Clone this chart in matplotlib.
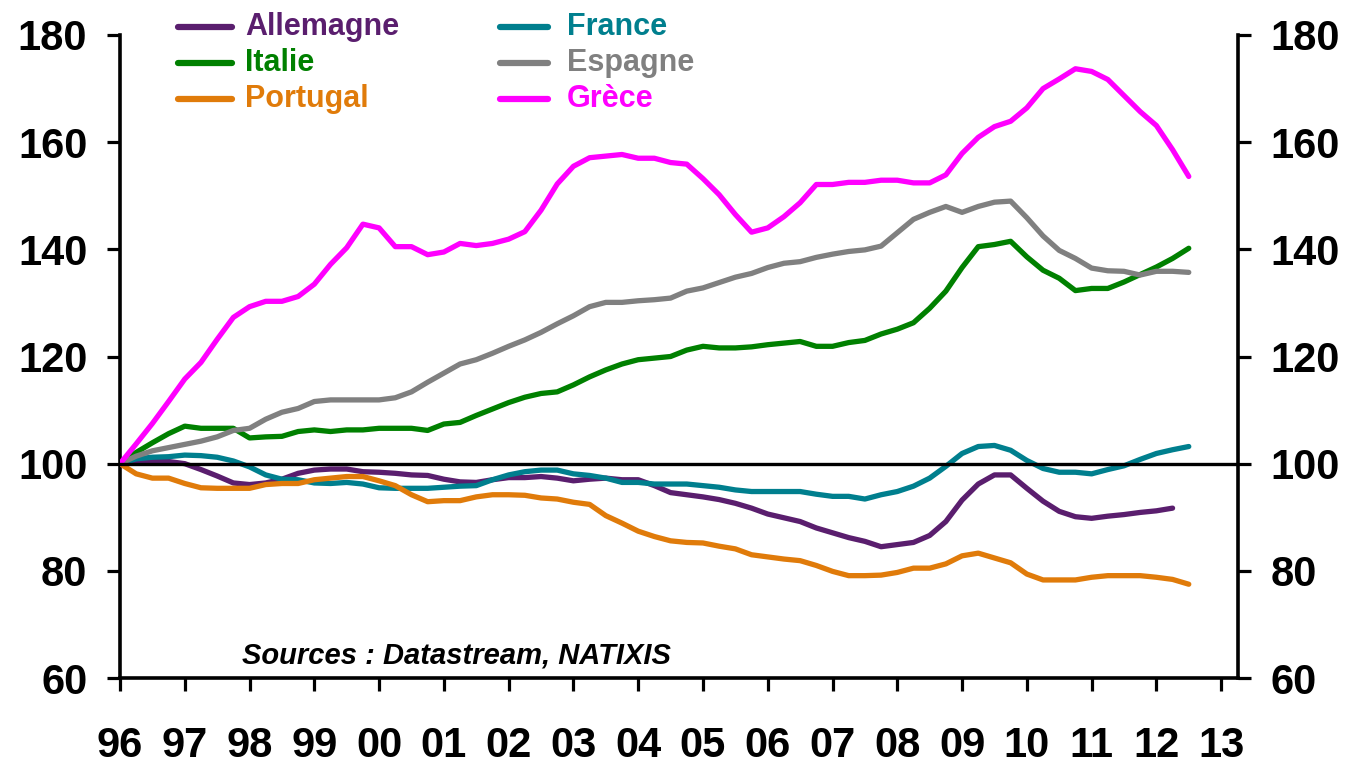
import numpy as np
import matplotlib
matplotlib.use("Agg")
import matplotlib.pyplot as plt
from matplotlib.lines import Line2D

plt.rcParams['font.family'] = ['Liberation Sans', 'DejaVu Sans']
plt.rcParams['font.weight'] = 'bold'

# ---------------- data (quarterly index, 1996 Q1 = 100) ----------------
start_year = 1996
allemagne = [100, 100.4, 100.6, 100.4, 100.0, 98.9, 97.7, 96.4, 96.1, 96.4,
             97.1, 98.2, 98.8, 99.0, 99.0, 98.5, 98.4, 98.2, 97.9, 97.8,
             97.1, 96.6, 96.5, 97.0, 97.4, 97.4, 97.6, 97.3, 96.8, 97.1,
             97.3, 97.0, 97.0, 95.9, 94.6, 94.2, 93.8, 93.3, 92.6, 91.7,
             90.6, 89.9, 89.2, 88.0, 87.1, 86.2, 85.5, 84.5, 84.9, 85.3,
             86.6, 89.2, 93.2, 96.2, 97.9, 97.9, 95.4, 93.0, 91.1, 90.1,
             89.8, 90.2, 90.5, 90.9, 91.2, 91.7]
france = [100, 100.9, 101.2, 101.3, 101.6, 101.5, 101.2, 100.5, 99.4, 97.9,
          97.1, 97.0, 96.4, 96.3, 96.5, 96.2, 95.5, 95.4, 95.4, 95.4,
          95.6, 95.8, 95.9, 97.0, 97.9, 98.5, 98.8, 98.8, 98.1, 97.8,
          97.3, 96.5, 96.5, 96.2, 96.2, 96.2, 95.9, 95.6, 95.1, 94.8,
          94.8, 94.8, 94.8, 94.3, 93.9, 93.9, 93.4, 94.2, 94.8, 95.8,
          97.3, 99.5, 101.9, 103.2, 103.4, 102.5, 100.6, 99.1, 98.4, 98.4,
          98.1, 98.9, 99.6, 100.8, 101.9, 102.6, 103.2]
italie = [100, 102.1, 103.9, 105.6, 107.0, 106.6, 106.6, 106.6, 104.8, 105.0,
          105.1, 106.0, 106.3, 106.0, 106.3, 106.3, 106.6, 106.6, 106.6, 106.2,
          107.4, 107.7, 109.0, 110.2, 111.4, 112.4, 113.1, 113.4, 114.7, 116.2,
          117.5, 118.6, 119.4, 119.7, 120.0, 121.2, 121.9, 121.6, 121.6, 121.8,
          122.2, 122.5, 122.8, 121.9, 121.9, 122.6, 123.0, 124.2, 125.1, 126.3,
          129.0, 132.2, 136.6, 140.5, 140.9, 141.5, 138.6, 136.1, 134.6, 132.3,
          132.7, 132.7, 133.9, 135.3, 136.7, 138.3, 140.2]
espagne = [100, 101.4, 102.4, 103.0, 103.6, 104.2, 105.0, 106.2, 106.6, 108.3,
           109.6, 110.3, 111.6, 111.9, 111.9, 111.9, 111.9, 112.3, 113.4, 115.2,
           116.9, 118.6, 119.4, 120.6, 121.9, 123.1, 124.5, 126.1, 127.6, 129.3,
           130.1, 130.1, 130.4, 130.6, 130.9, 132.2, 132.8, 133.8, 134.8, 135.5,
           136.6, 137.4, 137.7, 138.5, 139.1, 139.6, 139.9, 140.6, 143.1, 145.6,
           146.9, 148.0, 146.9, 148.0, 148.8, 149.0, 145.9, 142.5, 139.8, 138.3,
           136.5, 136.0, 135.9, 135.2, 135.9, 135.9, 135.7]
portugal = [100, 98.1, 97.3, 97.3, 96.3, 95.5, 95.4, 95.4, 95.4, 96.1,
            96.3, 96.3, 97.0, 97.3, 97.6, 97.6, 96.8, 95.9, 94.2, 92.9,
            93.1, 93.1, 93.8, 94.2, 94.2, 94.1, 93.6, 93.4, 92.8, 92.4,
            90.3, 88.9, 87.4, 86.4, 85.6, 85.3, 85.2, 84.6, 84.1, 83.0,
            82.6, 82.2, 81.9, 81.0, 79.9, 79.1, 79.1, 79.2, 79.7, 80.5,
            80.5, 81.3, 82.8, 83.3, 82.4, 81.5, 79.4, 78.3, 78.3, 78.3,
            78.8, 79.1, 79.1, 79.1, 78.8, 78.4, 77.5]
grece = [100, 103.7, 107.5, 111.6, 115.8, 118.9, 123.2, 127.3, 129.3, 130.3,
         130.3, 131.2, 133.5, 137.2, 140.3, 144.7, 144.0, 140.5, 140.5, 139.0,
         139.5, 141.1, 140.7, 141.1, 141.9, 143.3, 147.3, 152.2, 155.5, 157.1,
         157.4, 157.7, 157.0, 157.0, 156.2, 155.9, 153.2, 150.2, 146.5, 143.2,
         144.0, 146.1, 148.7, 152.1, 152.1, 152.5, 152.5, 152.9, 152.9, 152.4,
         152.4, 153.9, 157.9, 160.9, 162.9, 163.9, 166.4, 170.0, 171.8, 173.7,
         173.2, 171.7, 168.7, 165.7, 163.1, 158.6, 153.6]

series_names = ['Allemagne', 'France', 'Italie', 'Espagne', 'Portugal', 'Grèce']
series_values = [allemagne, france, italie, espagne, portugal, grece]
series_colors = ['#5A1E6E', '#007F8E', '#008000', '#808080', '#E07B0A', '#FF00FF']

year_ticks = list(range(1996, 2014))
year_labels = ['96', '97', '98', '99', '00', '01', '02', '03', '04', '05',
               '06', '07', '08', '09', '10', '11', '12', '13']
y_ticks = [60, 80, 100, 120, 140, 160, 180]
source_text = 'Sources : Datastream, NATIXIS'

# ---------------- figure ----------------
W, H = 1350, 764
fig = plt.figure(figsize=(W / 100, H / 100), dpi=100)
ax = fig.add_axes([120 / W, 1 - 678 / H, (1238 - 120) / W, (678 - 35) / H])

for name, vals, col in zip(series_names, series_values, series_colors):
    x = start_year + np.arange(len(vals)) / 4.0
    ax.plot(x, vals, color=col, lw=3.8, solid_capstyle='round',
            solid_joinstyle='round', zorder=3)

ax.axhline(100, color='black', lw=2.4, zorder=4)

ax.set_xlim(1996, 2013.26)
ax.set_ylim(60, 180)
ax.set_xticks(year_ticks)
ax.set_xticklabels(year_labels)
ax.set_yticks(y_ticks)

ax.spines['top'].set_visible(False)
for s in ['left', 'right', 'bottom']:
    ax.spines[s].set_linewidth(2.6)
    ax.spines[s].set_color('black')

ax.tick_params(axis='x', direction='out', length=9.5, width=2.3, pad=25,
               labelsize=30)
ax.tick_params(axis='y', direction='out', length=9.5, width=2.3,
               labelsize=30, right=True, labelright=True, pad=14)
for lab in ax.get_yticklabels() + ax.get_xticklabels():
    lab.set_fontweight('bold')
for t in ax.yaxis.get_major_ticks():
    t.label2.set_fontweight('bold')

# legend (drawn manually, two columns)
col_x = [(178, 232, 245), (500, 548, 567)]
row_y = [27, 63, 99]
order = [(0, 0), (1, 0), (0, 1), (1, 1), (0, 2), (1, 2)]
for (c, r), name, colr in zip(order, series_names, series_colors):
    x0, x1, xt = col_x[c]
    yy = 1 - row_y[r] / H
    fig.add_artist(Line2D([x0 / W, x1 / W], [yy, yy], color=colr, lw=4.5,
                          solid_capstyle='round', transform=fig.transFigure))
    fig.text(xt / W, yy, name, color=colr, fontsize=22, fontweight='bold',
             va='center', ha='left')

fig.text(242 / W, 1 - 655 / H, source_text, fontsize=21, fontweight='bold',
         fontstyle='italic', va='center', ha='left', color='black')

fig.savefig('out.png', dpi=100)
